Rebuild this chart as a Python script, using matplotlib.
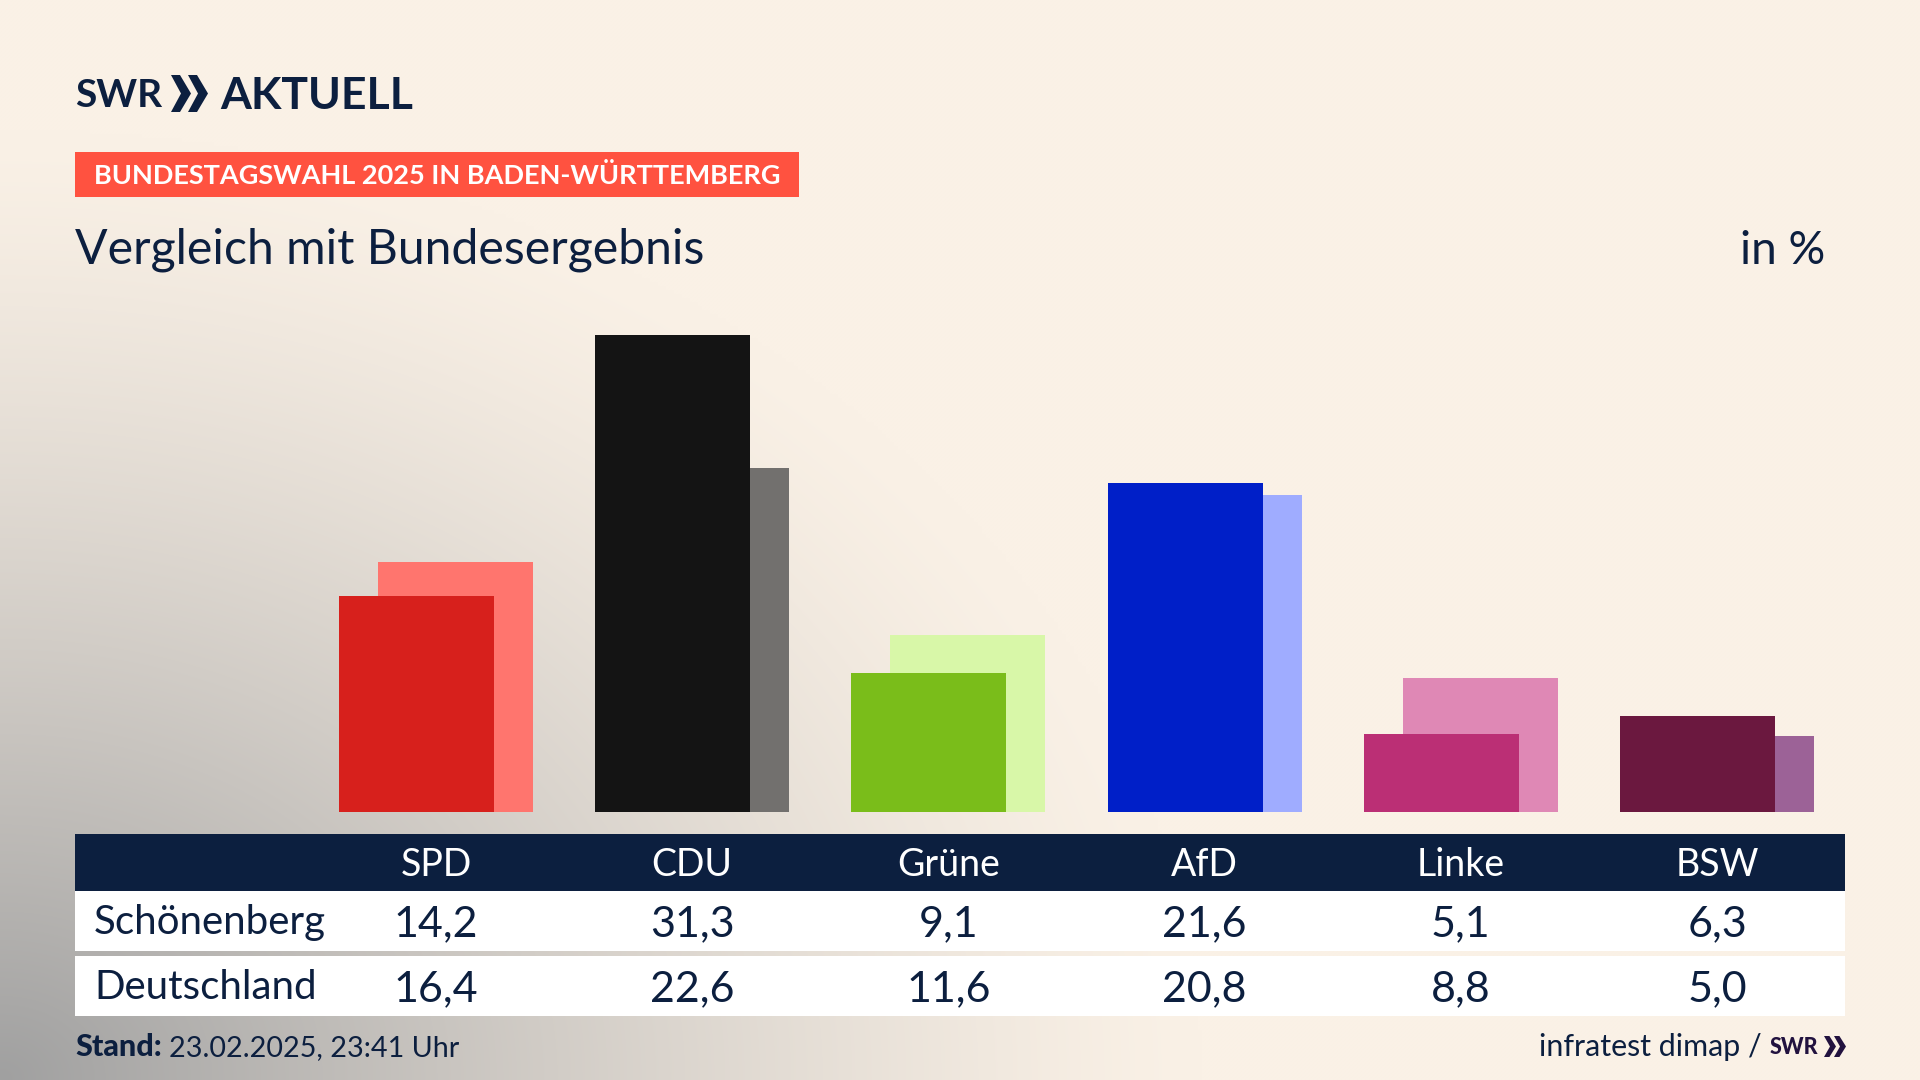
import numpy as np
import matplotlib.pyplot as plt
from matplotlib.patches import Polygon, Rectangle

parties = ['SPD', 'CDU', 'Grüne', 'AfD', 'Linke', 'BSW']
schoenenberg = [14.2, 31.3, 9.1, 21.6, 5.1, 6.3]
deutschland = [16.4, 22.6, 11.6, 20.8, 8.8, 5.0]
colors_local = ['#D7201C', '#141414', '#7ABD1A', '#001FC8', '#BB2F75', '#6B183F']
colors_bund = ['#FF756E', '#72706E', '#D8F7A8', '#9FACFF', '#DF88B5', '#9C6297']

NAVY = '#0C1F3F'
W, H = 1920, 1080

plt.rcParams['font.family'] = ['Lato', 'DejaVu Sans']
fig = plt.figure(figsize=(19.2, 10.8), dpi=100)


def fmt(v):
    return f'{v:.1f}'.replace('.', ',')


# background: beige with a grey glow from the lower left corner
bg = fig.add_axes([0, 0, 1, 1], zorder=0)
yy, xx = np.mgrid[0:H:270j, 0:W:480j]
dist = np.sqrt((xx / 1200) ** 2 + ((H - yy) / 950) ** 2)
mix = np.clip(1 - dist, 0, 1) ** 1.3
beige = np.array([250, 241, 230]) / 255
grey = np.array([160, 160, 160]) / 255
img = beige + (grey - beige) * mix[..., None]
bg.imshow(img, extent=[0, W, H, 0], aspect='auto', interpolation='bilinear')
bg.set_xlim(0, W)
bg.set_ylim(H, 0)
bg.axis('off')

# layout layer in pixel coordinates
bg.add_patch(Rectangle((75, 152), 724, 45, color='#FF5240', lw=0))
bg.add_patch(Rectangle((75, 834), 1770, 57, color=NAVY, lw=0))
bg.add_patch(Rectangle((75, 891), 1770, 60, color='white', lw=0))
bg.add_patch(Rectangle((75, 956), 1770, 60, color='white', lw=0))


def chevrons(x0, y0, y1, w, gap, color):
    mid = (y0 + y1) / 2
    for k in range(2):
        x = x0 + k * gap
        bg.add_patch(Polygon([(x, y0), (x + w * 0.45, y0), (x + w, mid),
                              (x + w * 0.45, y1), (x, y1), (x + w * 0.5, mid)],
                             closed=True, color=color, lw=0))


# no condensed face installed, so the logo words are sized to their width
bg.text(75, 107, 'SWR', fontsize=28, fontweight='bold', color=NAVY, va='baseline')
chevrons(171, 75, 112, 20, 17, NAVY)
bg.text(220, 109, 'AKTUELL', fontsize=32, fontweight='bold', color=NAVY, va='baseline')

bg.text(94, 184, 'BUNDESTAGSWAHL 2025 IN BADEN-WÜRTTEMBERG', fontsize=19.5,
        fontweight='bold', color='white', va='baseline')
bg.text(75, 264, 'Vergleich mit Bundesergebnis', fontsize=34.7, color=NAVY, va='baseline')
bg.text(1825, 264, 'in %', fontsize=33, color=NAVY, va='baseline', ha='right')

bg.text(94, 934, 'Schönenberg', fontsize=29, color=NAVY, va='baseline')
bg.text(94, 999, 'Deutschland', fontsize=29, color=NAVY, va='baseline')

for i, p in enumerate(parties):
    cx = 436 + 256.2 * i
    bg.text(cx, 876, p, fontsize=27, color='white', ha='center', va='baseline')
    bg.text(cx, 936, fmt(schoenenberg[i]), fontsize=31, color=NAVY, ha='center', va='baseline')
    bg.text(cx, 1001, fmt(deutschland[i]), fontsize=31, color=NAVY, ha='center', va='baseline')

bg.text(75, 1056, 'Stand:', fontsize=22, fontweight='black', color=NAVY, va='baseline')
bg.text(169, 1056, '23.02.2025, 23:41 Uhr', fontsize=20.7, color=NAVY, va='baseline')
bg.text(1762, 1056, 'infratest dimap /', fontsize=21.9, color=NAVY, ha='right', va='baseline')
bg.text(1770, 1054, 'SWR', fontsize=15.5, fontweight='black', color='#22123F', va='baseline')
chevrons(1824, 1036, 1057, 12, 10, '#22123F')

# bars: one category is 256 px wide, 15.23 px per percent point
ax = fig.add_axes([308 / W, (H - 812) / H, 1537 / W, 533 / H], zorder=1)
ax.patch.set_alpha(0)
x = np.arange(len(parties))
ax.bar(x + 0.076, deutschland, width=0.605, color=colors_bund, zorder=1)
ax.bar(x - 0.076, schoenenberg, width=0.605, color=colors_local, zorder=2)
ax.set_xlim(-0.5, 5.5)
ax.set_ylim(0, 35)
ax.axis('off')

fig.savefig('out.png', dpi=100)
